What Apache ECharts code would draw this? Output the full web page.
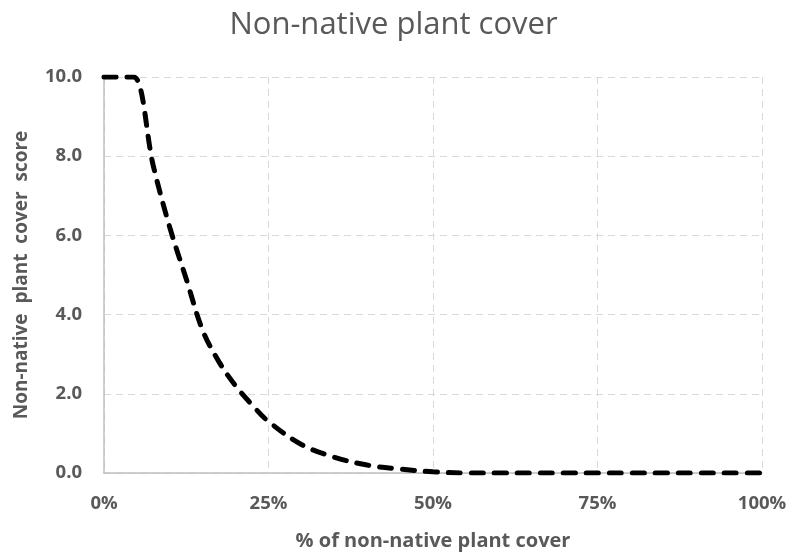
<!DOCTYPE html>
<html>
<head>
<meta charset="utf-8">
<script src="https://cdn.jsdelivr.net/npm/echarts@6/dist/echarts.min.js"></script>
<style>html,body{margin:0;padding:0;background:#fff;}#c{width:787px;height:554px;}</style>
</head>
<body>
<div id="c"></div>
<script>
const coverPct = [0, 2.5, 4.5, 7.5, 10, 12.5, 15, 17.5, 20, 22.5, 25, 30, 35, 40, 45, 50, 55, 60, 65, 70, 75, 80, 85, 90, 95, 100];
const scores  = [10, 10, 10, 7.75, 6.2, 4.9, 3.6, 2.8, 2.2, 1.72, 1.3, 0.72, 0.4, 0.2, 0.1, 0.03, 0, 0, 0, 0, 0, 0, 0, 0, 0, 0];
const xTicks = [0, 25, 50, 75, 100];
const yTicks = [0, 2, 4, 6, 8, 10];

const chart = echarts.init(document.getElementById('c'));
const grey = '#595959';
const font = '"Open Sans", sans-serif';
chart.setOption({
  animation: false,
  title: {
    text: 'Non-native plant cover',
    left: 'center', top: 5,
    textStyle: { fontFamily: font, fontSize: 31, fontWeight: 'normal', color: grey }
  },
  grid: { left: 104, right: 25, top: 77, bottom: 81, outerBoundsMode: 'none', containLabel: false },
  xAxis: {
    type: 'value', min: 0, max: 100, interval: 25,
    name: '% of non-native plant cover', nameLocation: 'middle', nameGap: 58,
    nameTextStyle: { fontFamily: font, fontSize: 20, fontWeight: 'bold', color: grey },
    axisLine: { show: true, lineStyle: { color: '#bfbfbf', width: 1.5 } },
    axisTick: { show: false },
    axisLabel: { fontFamily: font, fontSize: 18.5, fontWeight: 'bold', color: grey, margin: 21,
      formatter: v => xTicks.includes(v) ? v + '%' : '' },
    splitLine: { show: true, lineStyle: { color: '#d9d9d9', type: [7, 5], width: 1 } }
  },
  yAxis: {
    type: 'value', min: 0, max: 10, interval: 2,
    name: 'Non-native  plant  cover  score', nameLocation: 'middle', nameGap: 73, nameRotate: 90,
    nameTextStyle: { fontFamily: font, fontSize: 19, fontWeight: 'bold', color: grey },
    axisLine: { show: true, lineStyle: { color: '#bfbfbf', width: 1.5 } },
    axisTick: { show: false },
    axisLabel: { fontFamily: font, fontSize: 18.5, fontWeight: 'bold', color: grey, margin: 22,
      formatter: v => yTicks.includes(v) ? v.toFixed(1) : '' },
    splitLine: { show: true, lineStyle: { color: '#d9d9d9', type: [7, 5], width: 1 } }
  },
  series: [{
    type: 'line',
    data: coverPct.map((x, i) => [x, scores[i]]),
    showSymbol: false,
    smooth: 0.35,
    lineStyle: { color: '#000', width: 5, type: [12, 11], cap: 'round' },
    z: 5
  }]
});
</script>
</body>
</html>
